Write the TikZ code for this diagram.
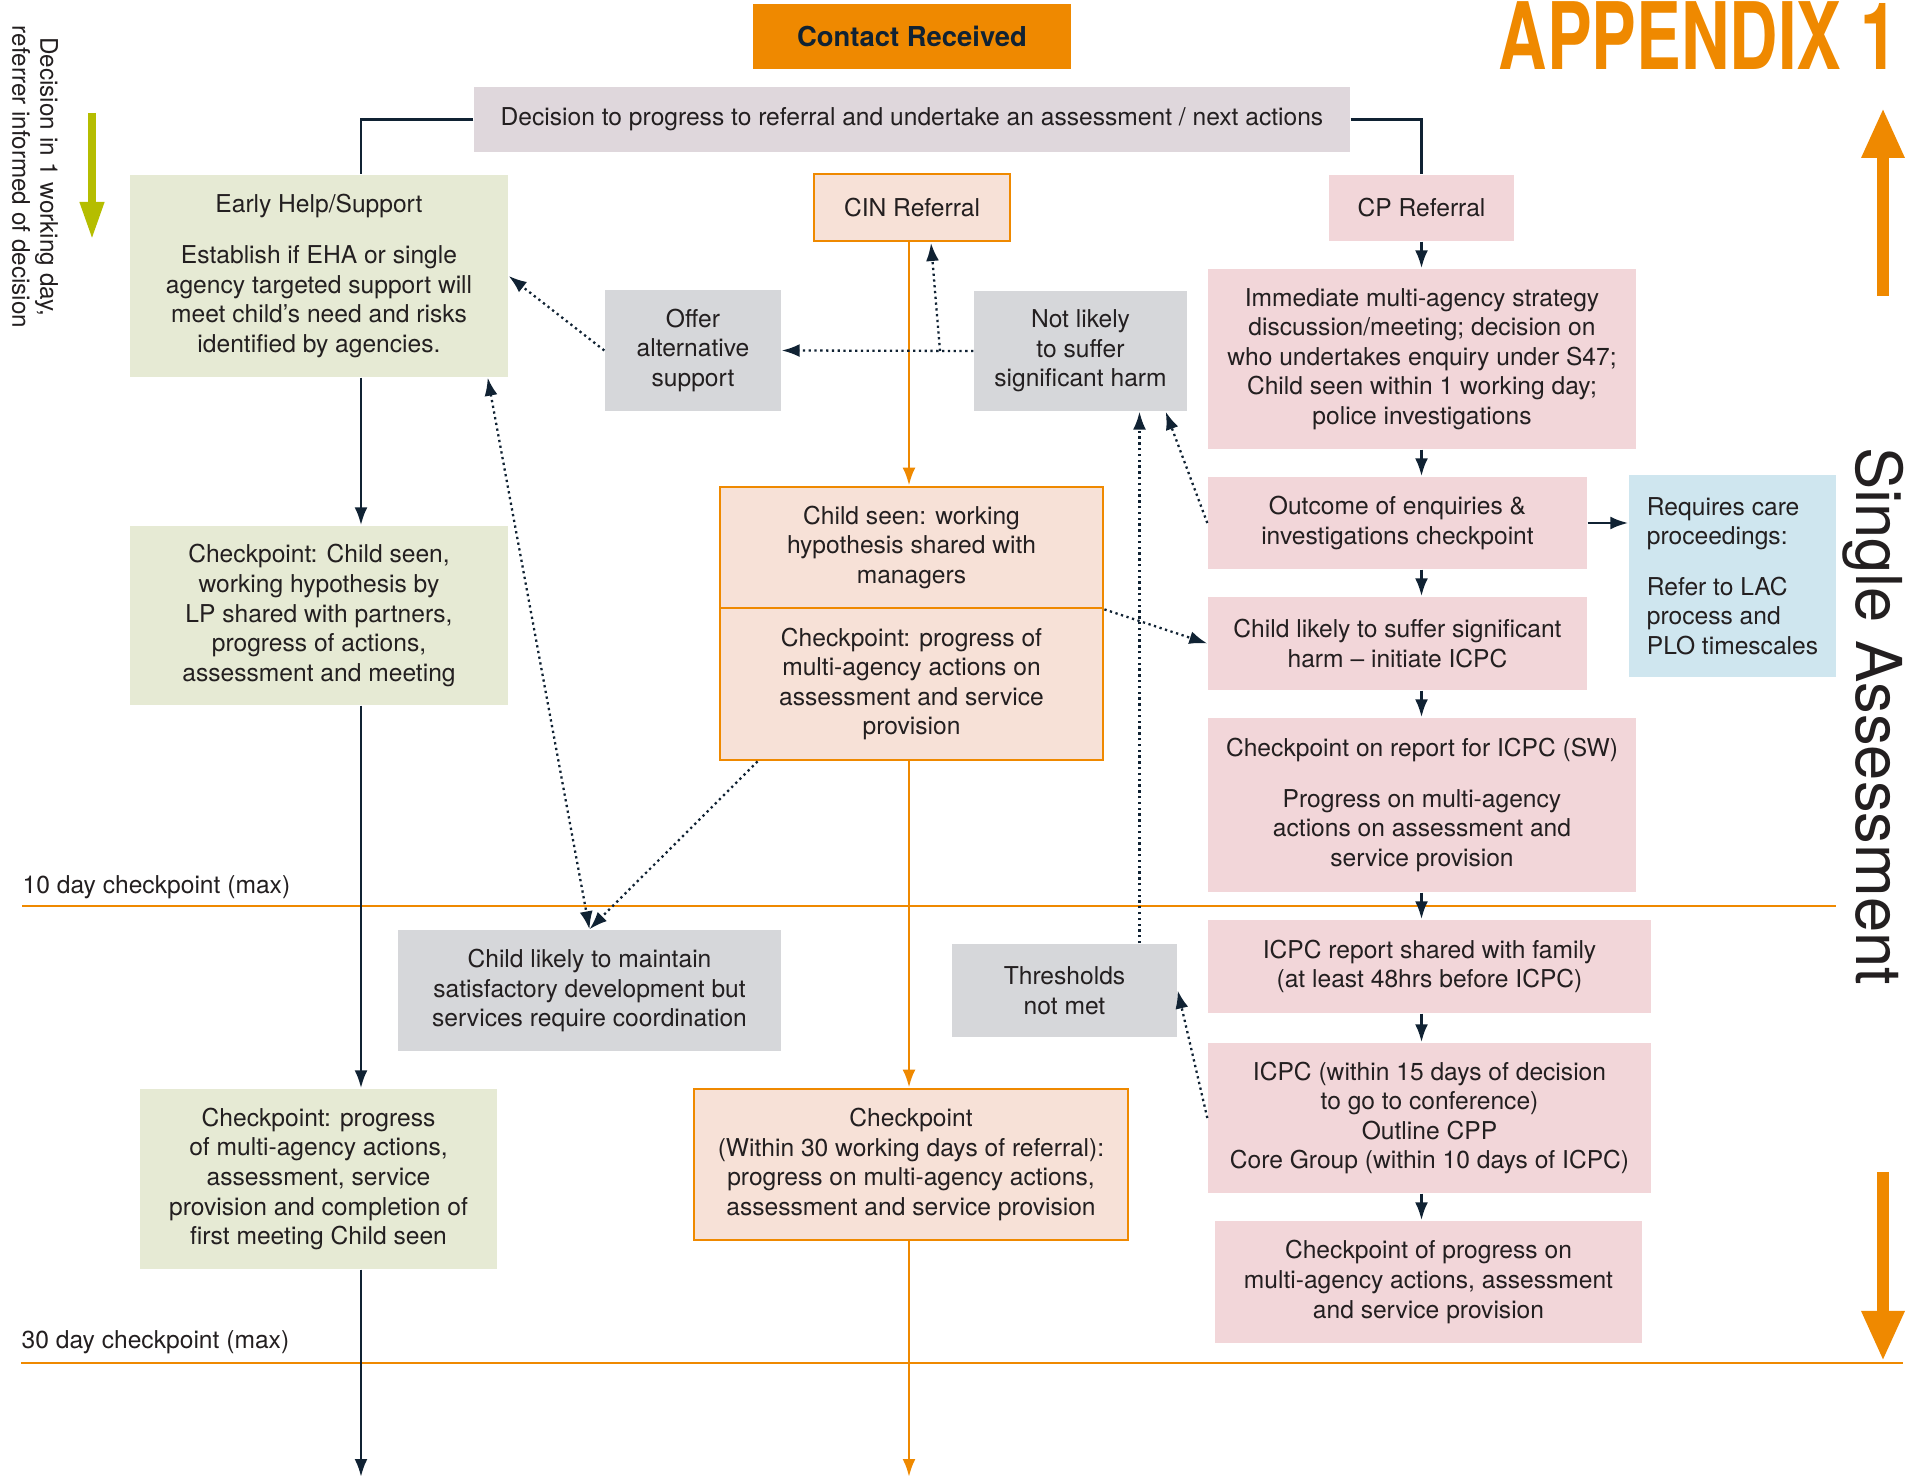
\documentclass[tikz,border=0pt]{standalone}
\usepackage{fontspec}
\setmainfont{TeX Gyre Heros}
\usetikzlibrary{arrows.meta}
\definecolor{orangeline}{RGB}{239,137,0}
\definecolor{navy}{RGB}{16,34,51}
\definecolor{txt}{RGB}{35,31,32}
\definecolor{mauve}{RGB}{223,215,220}
\definecolor{ehgreen}{RGB}{230,234,212}
\definecolor{cinfill}{RGB}{247,225,215}
\definecolor{cppink}{RGB}{242,214,217}
\definecolor{grau}{RGB}{214,215,218}
\definecolor{hellblau}{RGB}{207,230,239}
\definecolor{oliv}{RGB}{181,189,0}
\newcommand{\boxfont}{\fontsize{7}{8.4}\selectfont}
\tikzset{
	box/.style={rectangle, inner sep=0pt, align=center, font=\boxfont, text=txt},
	greenbox/.style={box, fill=ehgreen},
	cinbox/.style={box, fill=cinfill, draw=orangeline, line width=0.8pt},
	pinkbox/.style={box, fill=cppink},
	greybox/.style={box, fill=grau},
	pfeil/.style={draw=navy, line width=0.8pt, ->},
	opfeil/.style={draw=orangeline, line width=0.8pt, -{Latex[length=1.8mm,width=1.3mm,fill=orangeline]}},
	punkt/.style={draw=navy, line width=0.65pt, densely dotted},
	tagline/.style={draw=orangeline, line width=0.85pt}
}
\begin{document}
\begin{tikzpicture}[x=1cm, y=-1cm, >={Latex[length=1.8mm,width=1.3mm]}]
	\useasboundingbox (0,0) rectangle (19.19,14.79);
	\draw[tagline] (0.22,9.06) -- (18.36,9.06);%10 Tage
	\draw[tagline] (0.21,13.63) -- (19.03,13.63);%30 Tage
	\node[anchor=west, inner sep=0pt, font=\boxfont, text=txt] (tenday) at (0.22,8.87) {10 day checkpoint (max)};
	\node[anchor=west, inner sep=0pt, font=\boxfont, text=txt] (thirtyday) at (0.21,13.42) {30 day checkpoint (max)};
	\node[inner sep=0pt, font=\fontsize{26.5}{26.5}\selectfont\bfseries, text=orangeline, xscale=0.72] (appendix) at (16.98,0.36) {APPENDIX 1};
	\node[box, fill=orangeline, minimum width=3.18cm, minimum height=0.65cm, font=\fontsize{7.8}{9}\selectfont\bfseries, text=navy] (contact) at (9.12,0.365) {Contact Received};
	\node[box, fill=mauve, minimum width=8.76cm, minimum height=0.65cm] (decision) at (9.12,1.195) {Decision to progress to referral and undertake an assessment / next actions};
	\node[rotate=-90, align=center, inner sep=0pt, font=\fontsize{6.9}{8}\selectfont, text=txt] (entscheid) at (0.35,1.77) {Decision in 1 working day,\\referrer informed of decision};
	\node[rotate=-90, inner sep=0pt, font=\fontsize{18}{18}\selectfont, text=txt] (single) at (18.73,7.16) {Single Assessment};
	%linke Spalte
	\node[greenbox, minimum width=3.78cm, minimum height=2.02cm] (early) at (3.19,2.76) {Early Help/Support\\[6pt]Establish if EHA or single\\agency targeted support will\\meet child’s need and risks\\identified by agencies.};
	\node[greenbox, minimum width=3.78cm, minimum height=1.79cm] (greenchk1) at (3.19,6.155) {Checkpoint: Child seen,\\working hypothesis by\\LP shared with partners,\\progress of actions,\\assessment and meeting};
	\node[greenbox, minimum width=3.57cm, minimum height=1.80cm] (greenchk2) at (3.185,11.79) {Checkpoint: progress\\of multi-agency actions,\\assessment, service\\provision and completion of\\first meeting Child seen};
	%mittlere Spalte
	\node[cinbox, minimum width=1.96cm, minimum height=0.67cm] (cin) at (9.12,2.075) {CIN Referral};
	\node[greybox, minimum width=1.76cm, minimum height=1.21cm] (offer) at (6.93,3.505) {Offer\\alternative\\support};
	\node[greybox, minimum width=2.13cm, minimum height=1.20cm] (notlikely) at (10.805,3.51) {Not likely\\to suffer\\significant harm};
	\node[cinbox, minimum width=3.83cm, minimum height=1.21cm] (seentop) at (9.115,5.475) {Child seen: working\\hypothesis shared with\\managers};
	\node[cinbox, minimum width=3.83cm, minimum height=1.52cm] (seenchk) at (9.115,6.84) {Checkpoint: progress of\\multi-agency actions on\\assessment and service\\provision};
	\node[greybox, minimum width=3.83cm, minimum height=1.21cm] (maintain) at (5.895,9.905) {Child likely to maintain\\satisfactory development but\\services require coordination};
	\node[greybox, minimum width=2.25cm, minimum height=0.93cm] (thresh) at (10.645,9.905) {Thresholds\\not met};
	\node[cinbox, minimum width=4.34cm, minimum height=1.51cm] (cin30) at (9.11,11.645) {Checkpoint\\(Within 30 working days of referral):\\progress on multi-agency actions,\\assessment and service provision};
	%rechte Spalte
	\node[pinkbox, minimum width=1.85cm, minimum height=0.66cm] (cp) at (14.215,2.08) {CP Referral};
	\node[pinkbox, minimum width=4.28cm, minimum height=1.80cm] (immediate) at (14.22,3.59) {Immediate multi-agency strategy\\discussion/meeting; decision on\\who undertakes enquiry under S47;\\Child seen within 1 working day;\\police investigations};
	\node[pinkbox, minimum width=3.79cm, minimum height=0.92cm] (outcome) at (13.975,5.23) {Outcome of enquiries \&\\investigations checkpoint};
	\node[box, fill=hellblau, align=left, minimum width=2.07cm, minimum height=2.02cm] (care) at (17.325,5.76) {Requires care\\proceedings:\\[6pt]Refer to LAC\\process and\\PLO timescales};
	\node[pinkbox, minimum width=3.79cm, minimum height=0.93cm] (likelyharm) at (13.975,6.435) {Child likely to suffer significant\\harm – initiate ICPC};
	\node[pinkbox, minimum width=4.28cm, minimum height=1.74cm] (reportchk) at (14.22,8.05) {Checkpoint on report for ICPC (SW)\\[6pt]Progress on multi-agency\\actions on assessment and\\service provision};
	\node[pinkbox, minimum width=4.43cm, minimum height=0.93cm] (icpcreport) at (14.295,9.665) {ICPC report shared with family\\(at least 48hrs before ICPC)};
	\node[pinkbox, minimum width=4.43cm, minimum height=1.50cm] (icpc) at (14.295,11.18) {ICPC (within 15 days of decision\\to go to conference)\\Outline CPP\\Core Group (within 10 days of ICPC)};
	\node[pinkbox, minimum width=4.27cm, minimum height=1.22cm] (progress) at (14.285,12.82) {Checkpoint of progress on\\multi-agency actions, assessment\\and service provision};
	%Verbindungen links
	\coordinate (links) at (3.61,14.77);
	\draw[navy, line width=0.8pt] (decision.west) -| (early.north -| links);
	\draw[pfeil] (early.south -| links) -- (greenchk1.north -| links);
	\draw[pfeil] (greenchk1.south -| links) -- (greenchk2.north -| links);
	\draw[pfeil] (greenchk2.south -| links) -- (links);
	%Verbindungen Mitte
	\coordinate (mitte) at (9.09,14.77);
	\draw[opfeil] (cin.south -| mitte) -- (seentop.north -| mitte);
	\draw[opfeil] (seenchk.south -| mitte) -- (cin30.north -| mitte);
	\draw[opfeil] (cin30.south -| mitte) -- (mitte);
	%Verbindungen rechts
	\draw[navy, line width=0.8pt] (decision.east) -| (cp.north);
	\draw[pfeil] (cp.south) -- (cp.south |- immediate.north);
	\draw[pfeil] (immediate.south -| cp) -- (outcome.north -| cp);
	\draw[pfeil] (outcome.south -| cp) -- (likelyharm.north -| cp);
	\draw[pfeil] (likelyharm.south -| cp) -- (reportchk.north -| cp);
	\draw[pfeil] (reportchk.south -| cp) -- (icpcreport.north -| cp);
	\draw[pfeil] (icpcreport.south -| cp) -- (icpc.north -| cp);
	\draw[pfeil] (icpc.south -| cp) -- (progress.north -| cp);
	\draw[pfeil] (outcome.east) -- (outcome.east -| care.west);
	%gepunktete Pfeile
	\coordinate (abzw) at (9.40,3.51);
	\coordinate (cinpfeil) at (9.31,2.43);
	\draw[punkt, ->] (notlikely.west) -- (offer.east);
	\draw[punkt, ->] (abzw) -- (cinpfeil);
	\draw[punkt, ->] (offer.west) -- (early.east);
	\draw[punkt, ->] (outcome.west) -- ([xshift=-2.2mm]notlikely.south east);
	\draw[punkt, ->] ([xshift=7.5mm]thresh.north) -- ([xshift=7.5mm]thresh.north |- notlikely.south);
	\draw[punkt, ->] (icpc.west) -- (thresh.east);
	\draw[punkt, ->] (seentop.south east) -- (likelyharm.west);
	\draw[punkt, ->] ([xshift=3.9mm]seenchk.south west) -- (maintain.north);
	\draw[punkt, <->] ([xshift=-2.1mm]early.south east) -- (maintain.north);
	%grosse Pfeile am Rand
	\draw[oliv, line width=2pt, -{Triangle[length=3.7mm,width=2.3mm]}] (0.92,1.13) -- (0.92,2.39);
	\draw[orangeline, line width=3.4pt, -{Triangle[length=5mm,width=4mm]}] (18.83,2.96) -- (18.83,1.08);
	\draw[orangeline, line width=3.4pt, -{Triangle[length=5mm,width=4mm]}] (18.83,11.72) -- (18.83,13.61);
\end{tikzpicture}
\end{document}
